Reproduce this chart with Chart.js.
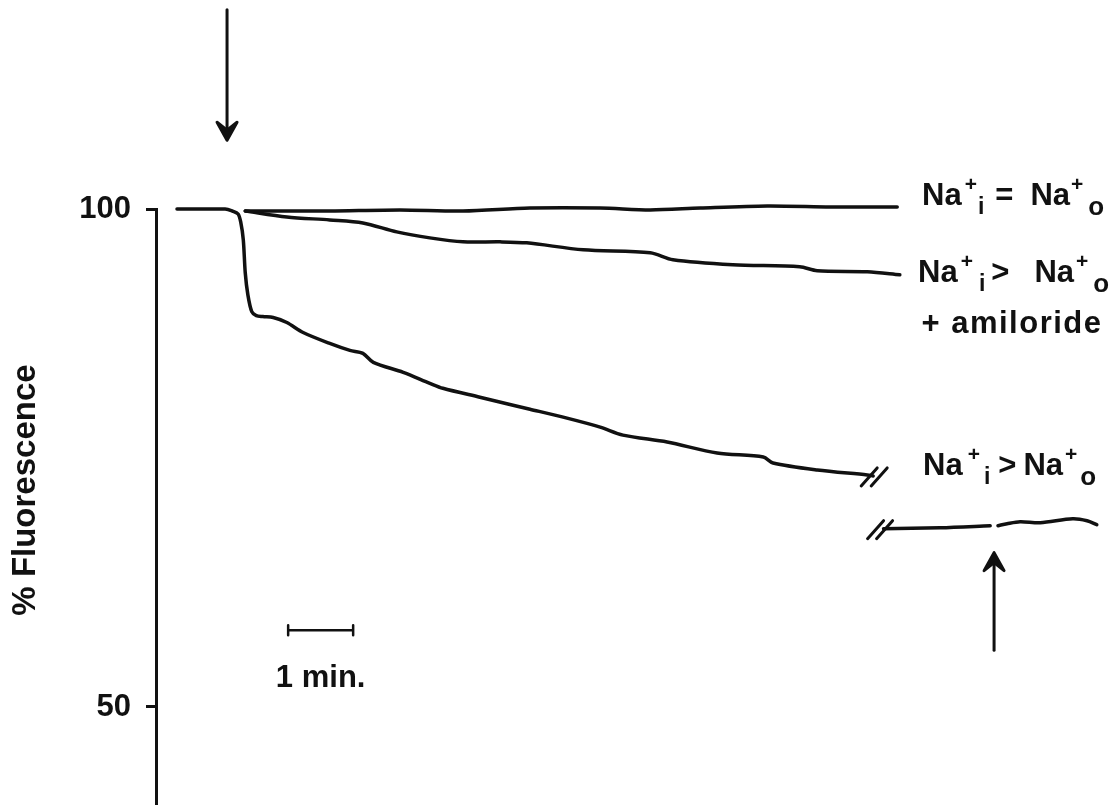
<!DOCTYPE html>
<html>
<head>
<meta charset="utf-8">
<title>Na+ gradient and fluorescence</title>
<script src="https://cdn.jsdelivr.net/npm/chart.js@4.4.1/dist/chart.umd.min.js"></script>
<style>
  html, body { margin: 0; padding: 0; background: #fff; }
  #wrap { width: 1114px; height: 805px; position: relative; }
</style>
</head>
<body>
<div id="wrap"><canvas id="trace"></canvas></div>
<script>
// Time in minutes, measured from the first addition (down arrow).
// Fluorescence in % of the starting signal.

// Na+i = Na+o
const equalTime  = [0.25, 0.94, 1.55, 2.63, 3.60, 4.63, 5.71, 6.48, 7.25, 8.28, 9.25, 9.80, 10.28];
const equalValue = [99.8, 99.8, 99.8, 99.9, 99.8, 100.1, 100.1, 99.9, 100.1, 100.3, 100.2, 100.2, 100.2];

// Na+i > Na+o + amiloride
const amilTime  = [0.25, 0.89, 1.55, 2.06, 2.58, 3.09, 3.60, 4.17, 4.58, 5.45, 6.48, 6.83, 7.75, 8.78, 9.05, 9.82, 10.32];
const amilValue = [99.8, 99.2, 98.9, 98.6, 97.7, 97.1, 96.7, 96.7, 96.6, 95.9, 95.6, 94.9, 94.4, 94.2, 93.8, 93.7, 93.4];

// Na+i > Na+o, until the break in the recording
const gradTime  = [-0.80, -0.06, 0.05, 0.14, 0.18, 0.22, 0.25, 0.29, 0.35, 0.42, 0.52, 0.68, 0.89, 1.14, 1.55, 1.86, 2.06, 2.22, 2.68, 3.09, 3.29, 3.86, 4.37, 4.63, 5.20, 5.71, 6.06, 6.74, 7.51, 8.22, 8.37, 9.05, 9.82, 9.91];
const gradValue = [100, 100, 99.8, 99.5, 98.7, 96.9, 93.6, 91.4, 89.7, 89.3, 89.2, 89.1, 88.6, 87.6, 86.5, 85.8, 85.5, 84.6, 83.6, 82.5, 82.0, 81.1, 80.3, 79.9, 79.0, 78.1, 77.3, 76.6, 75.5, 75.1, 74.5, 73.8, 73.3, 73.2];

// Na+i > Na+o, after the break; null marks the second addition
const lateTime  = [10.07, 10.94, 11.71, 11.77, 11.83, 11.97, 12.17, 12.48, 12.98, 13.20, 13.35];
const lateValue = [67.9, 68.0, 68.2, null, 68.2, 68.4, 68.6, 68.5, 68.9, 68.7, 68.3];

const yTicks = [50, 100];
const firstAddition = -0.03;   // down arrow
const secondAddition = 11.77;  // up arrow
const scaleBarStart = 0.91;    // 1 min. bar
const scaleBarMinutes = 1;

const INK = '#111111';
const FAMILY = "'Liberation Sans', Arial, Helvetica, sans-serif";
Chart.defaults.font.family = FAMILY;
Chart.defaults.color = INK;

const pts = (ts, vs) => ts.map((t, i) => ({ x: t, y: vs[i] }));

function rich(ctx, x, y, parts) {
  for (const p of parts) {
    x += p.gap || 0;
    ctx.font = 'bold ' + p.size + 'px ' + FAMILY;
    ctx.fillText(p.text, x, y + (p.dy || 0));
    x += ctx.measureText(p.text).width;
  }
}

function naLabel(rel, g) {
  return [
    { text: 'Na', size: 31 },
    { text: '+', size: 21, dy: -14, gap: g[0] },
    { text: 'i', size: 23, dy: 9, gap: g[1] },
    { text: rel, size: 31, gap: g[2] },
    { text: 'Na', size: 31, gap: g[3] },
    { text: '+', size: 21, dy: -14, gap: g[4] },
    { text: 'o', size: 26, dy: 10, gap: g[5] }
  ];
}

function arrow(ctx, x, yTail, yTip) {
  const dir = yTip > yTail ? 1 : -1;
  ctx.beginPath();
  ctx.moveTo(x, yTail);
  ctx.lineTo(x, yTip - dir * 6);
  ctx.stroke();
  ctx.beginPath();
  ctx.moveTo(x, yTip);
  ctx.lineTo(x - 10, yTip - dir * 18);
  ctx.lineTo(x, yTip - dir * 10);
  ctx.lineTo(x + 10, yTip - dir * 18);
  ctx.closePath();
  ctx.fill();
  ctx.stroke();
}

function breakMark(ctx, cx, cy) {
  ctx.beginPath();
  ctx.moveTo(cx - 8, cy + 9);
  ctx.lineTo(cx + 8, cy - 9);
  ctx.stroke();
}

const decor = {
  id: 'decor',
  afterDraw(chart) {
    const { ctx } = chart;
    const x = chart.scales.x, y = chart.scales.y;
    ctx.save();
    ctx.strokeStyle = INK;
    ctx.fillStyle = INK;
    ctx.lineWidth = 3;
    ctx.lineCap = 'round';
    ctx.lineJoin = 'round';

    // axis title
    ctx.save();
    ctx.translate(35, 490);
    ctx.rotate(-Math.PI / 2);
    ctx.textAlign = 'center';
    ctx.font = 'bold 33px ' + FAMILY;
    ctx.fillText('% Fluorescence', 0, 0);
    ctx.restore();

    // additions
    arrow(ctx, x.getPixelForValue(firstAddition), y.getPixelForValue(120), y.getPixelForValue(106.9));
    arrow(ctx, x.getPixelForValue(secondAddition), y.getPixelForValue(55.7), y.getPixelForValue(65.5));

    // break in the recording
    const endX = x.getPixelForValue(gradTime[gradTime.length - 1]);
    const endY = y.getPixelForValue(gradValue[gradValue.length - 1]);
    breakMark(ctx, endX - 4, endY + 1);
    breakMark(ctx, endX + 6, endY + 1);
    const startX = x.getPixelForValue(lateTime[0]);
    const startY = y.getPixelForValue(lateValue[0]);
    breakMark(ctx, startX - 8, startY + 1);
    breakMark(ctx, startX + 1, startY + 1);

    // time scale bar
    const bx0 = x.getPixelForValue(scaleBarStart);
    const bx1 = x.getPixelForValue(scaleBarStart + scaleBarMinutes);
    const by = y.getPixelForValue(57.7);
    ctx.lineWidth = 2.5;
    ctx.beginPath();
    ctx.moveTo(bx0, by); ctx.lineTo(bx1, by);
    ctx.moveTo(bx0, by - 5); ctx.lineTo(bx0, by + 5);
    ctx.moveTo(bx1, by - 5); ctx.lineTo(bx1, by + 5);
    ctx.stroke();
    ctx.textAlign = 'center';
    ctx.font = 'bold 31px ' + FAMILY;
    ctx.fillText('1 min.', (bx0 + bx1) / 2, by + 57);

    // trace labels
    ctx.textAlign = 'left';
    rich(ctx, 922, 205, naLabel('=', [3, 1, 11, 17, 1, 5]));
    rich(ctx, 918, 282, naLabel('>', [3, 6, 6, 25, 2, 5]));
    ctx.textAlign = 'center';
    ctx.letterSpacing = '1.5px';
    ctx.font = 'bold 31px ' + FAMILY;
    ctx.fillText('+ amiloride', 1012, 333);
    ctx.letterSpacing = '0px';
    ctx.textAlign = 'left';
    rich(ctx, 923, 475, naLabel('>', [5, 4, 8, 7, 2, 3]));
    ctx.restore();
  }
};

const line = (data) => ({ data, borderColor: INK, borderWidth: 3.5, pointRadius: 0, tension: 0.3, clip: false, spanGaps: false, fill: false, borderCapStyle: 'round', borderJoinStyle: 'round' });

new Chart(document.getElementById('trace'), {
  type: 'line',
  data: {
    datasets: [
      line(pts(equalTime, equalValue)),
      line(pts(amilTime, amilValue)),
      line(pts(gradTime, gradValue)),
      line(pts(lateTime, lateValue))
    ]
  },
  options: {
    responsive: true,
    maintainAspectRatio: false,
    animation: false,
    events: [],
    layout: { padding: { top: 209, left: 0, right: 0, bottom: 0 } },
    plugins: { legend: { display: false }, tooltip: { enabled: false } },
    scales: {
      x: { type: 'linear', display: false, min: -1.123, max: 13.615 },
      y: {
        type: 'linear', min: 40.16, max: 100,
        afterFit: (s) => { s.width = 156; s.paddingTop = 0; s.paddingBottom = 0; },
        afterBuildTicks: (s) => { s.ticks = yTicks.map(v => ({ value: v })); },
        border: { display: true, color: INK, width: 3 },
        grid: { drawOnChartArea: false, drawTicks: true, tickLength: 10, color: INK, lineWidth: 3 },
        ticks: { padding: 15, color: INK, font: { size: 31, weight: 'bold' }, callback: (v) => String(v) }
      }
    }
  },
  plugins: [decor]
});
</script>
</body>
</html>
